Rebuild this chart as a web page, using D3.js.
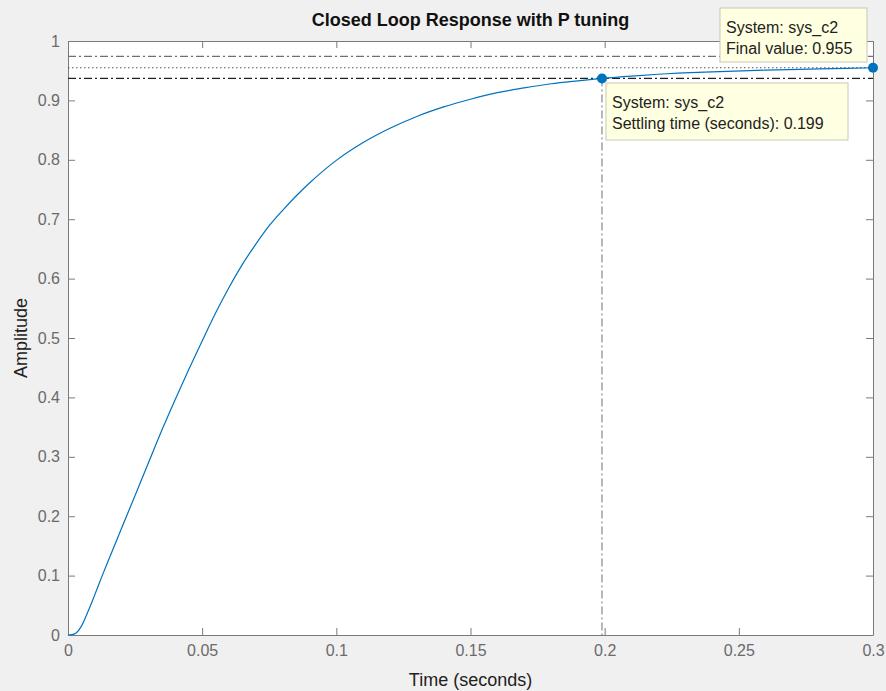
<!DOCTYPE html>
<html>
<head>
<meta charset="utf-8">
<script src="https://cdn.jsdelivr.net/npm/d3@7"></script>
<style>
	body { margin: 0; background: #f0f0f0; }
	svg { display: block; font-family: "Liberation Sans", Arial, sans-serif; }
</style>
</head>
<body>
<svg id="chart" width="886" height="691"></svg>
<script>
// step response
var timeValues = [0, 0.0025, 0.005, 0.0075, 0.01, 0.0125, 0.015, 0.02, 0.025, 0.03, 0.035, 0.04, 0.045,
	0.05, 0.055, 0.06, 0.065, 0.07, 0.075, 0.08, 0.085, 0.09, 0.095, 0.1, 0.11, 0.12, 0.13,
	0.14, 0.15, 0.16, 0.17, 0.18, 0.19, 0.199, 0.21, 0.22, 0.24, 0.26, 0.28, 0.3];
var amplitudeValues = [0, 0.002, 0.015, 0.04, 0.068, 0.097, 0.125, 0.18, 0.235, 0.29, 0.345, 0.397, 0.447,
	0.495, 0.542, 0.585, 0.624, 0.658, 0.689, 0.715, 0.739, 0.761, 0.781, 0.799, 0.829, 0.853, 0.873,
	0.889, 0.902, 0.913, 0.921, 0.928, 0.933, 0.937, 0.941, 0.944, 0.948, 0.951, 0.953, 0.955];

var xTicks = [0, 0.05, 0.1, 0.15, 0.2, 0.25, 0.3];
var xTickLabels = ["0", "0.05", "0.1", "0.15", "0.2", "0.25", "0.3"];
var yTicks = [0, 0.1, 0.2, 0.3, 0.4, 0.5, 0.6, 0.7, 0.8, 0.9, 1];
var yTickLabels = ["0", "0.1", "0.2", "0.3", "0.4", "0.5", "0.6", "0.7", "0.8", "0.9", "1"];

var finalValue = 0.955;
var settlingTime = 0.199;
var settlingAmplitude = 0.937;
var upperBound = 0.974;
var lowerBound = 0.937;

var finalTipLines = ["System: sys_c2", "Final value: 0.955"];
var settlingTipLines = ["System: sys_c2", "Settling time (seconds): 0.199"];

var margin = { left: 68, top: 41, right: 13, bottom: 56 };
var width = 886 - margin.left - margin.right;
var height = 691 - margin.top - margin.bottom;
var lineColor = "#0072bd";
var axisColor = "#7a7a7a";

function draw() {
	var svg = d3.select("#chart");
	var x = d3.scaleLinear().domain([0, 0.3]).range([0, width]);
	var y = d3.scaleLinear().domain([0, 1]).range([height, 0]);
	var g = svg.append("g").attr("transform", "translate(" + margin.left + "," + margin.top + ")");

	g.append("rect")
		.attr("width", width)
		.attr("height", height)
		.attr("fill", "white");

	drawAxes(g, x, y);
	drawBounds(g, x, y);

	var line = d3.line()
		.x(function(d, i) { return x(timeValues[i]); })
		.y(function(d) { return y(d); })
		.curve(d3.curveMonotoneX);
	g.append("path")
		.datum(amplitudeValues)
		.attr("d", line)
		.attr("fill", "none")
		.attr("stroke", lineColor)
		.attr("stroke-width", 1.2);

	// settling time marker and guide
	g.append("line")
		.attr("x1", x(settlingTime)).attr("x2", x(settlingTime))
		.attr("y1", y(settlingAmplitude)).attr("y2", y(0))
		.attr("stroke", "#707070")
		.attr("stroke-dasharray", "8,3,2,3");
	g.append("circle")
		.attr("cx", x(settlingTime)).attr("cy", y(settlingAmplitude))
		.attr("r", 5).attr("fill", lineColor);
	g.append("circle")
		.attr("cx", x(0.3)).attr("cy", y(finalValue))
		.attr("r", 5).attr("fill", lineColor);

	drawTip(svg, 720, 8, 147, 54, finalTipLines);
	drawTip(svg, 606, 83, 242, 57, settlingTipLines);

	svg.append("text")
		.attr("x", margin.left + width / 2)
		.attr("y", 26)
		.attr("text-anchor", "middle")
		.attr("font-weight", "bold")
		.attr("font-size", 18)
		.attr("fill", "#111")
		.text("Closed Loop Response with P tuning");
	svg.append("text")
		.attr("x", margin.left + width / 2)
		.attr("y", 686)
		.attr("text-anchor", "middle")
		.attr("font-size", 18)
		.attr("fill", "#222")
		.text("Time (seconds)");
	svg.append("text")
		.attr("transform", "translate(27," + (margin.top + height / 2) + ") rotate(-90)")
		.attr("text-anchor", "middle")
		.attr("font-size", 18)
		.attr("fill", "#222")
		.text("Amplitude");
}

function drawAxes(g, x, y) {
	var bottom = d3.axisBottom(x).tickValues(xTicks)
		.tickFormat(function(d, i) { return xTickLabels[i]; })
		.tickSizeInner(-7).tickSizeOuter(0).tickPadding(10);
	var left = d3.axisLeft(y).tickValues(yTicks)
		.tickFormat(function(d, i) { return yTickLabels[i]; })
		.tickSizeInner(-7).tickSizeOuter(0).tickPadding(8);
	var top = d3.axisTop(x).tickValues(xTicks).tickFormat("")
		.tickSizeInner(-7).tickSizeOuter(0);
	var right = d3.axisRight(y).tickValues(yTicks).tickFormat("")
		.tickSizeInner(-7).tickSizeOuter(0);

	var gb = g.append("g").attr("transform", "translate(0," + height + ")").call(bottom);
	var gl = g.append("g").call(left);
	var gt = g.append("g").call(top);
	var gr = g.append("g").attr("transform", "translate(" + width + ",0)").call(right);

	[gb, gl, gt, gr].forEach(function(a) {
		a.selectAll("path, line").attr("stroke", axisColor);
		a.selectAll("text")
			.attr("fill", "#6a6a6a")
			.style("font-size", "16px")
			.style("font-family", "\"Liberation Sans\", Arial, sans-serif");
	});
}

function drawBounds(g, x, y) {
	var bounds = [
		{ value: upperBound, color: "#707070", dash: "8,3,2,3" },
		{ value: finalValue, color: "#555", dash: "1.5,2.5" },
		{ value: lowerBound, color: "#222", dash: "8,3,2,3" }
	];
	g.selectAll("line.bound")
		.data(bounds)
		.enter()
		.append("line")
		.attr("class", "bound")
		.attr("x1", 0).attr("x2", width)
		.attr("y1", function(d) { return y(d.value); })
		.attr("y2", function(d) { return y(d.value); })
		.attr("stroke", function(d) { return d.color; })
		.attr("stroke-width", 1.2)
		.attr("stroke-dasharray", function(d) { return d.dash; });
}

function drawTip(svg, bx, by, bw, bh, lines) {
	var tip = svg.append("g").attr("transform", "translate(" + bx + "," + by + ")");
	tip.append("rect")
		.attr("width", bw)
		.attr("height", bh)
		.attr("fill", "#ffffe1")
		.attr("stroke", "#c8c8b4");
	tip.selectAll("text")
		.data(lines)
		.enter()
		.append("text")
		.attr("x", 6)
		.attr("y", function(d, i) { return 25 + i * 21; })
		.attr("font-size", 16)
		.attr("fill", "#222")
		.text(function(d) { return d; });
}

draw();
</script>
</body>
</html>
